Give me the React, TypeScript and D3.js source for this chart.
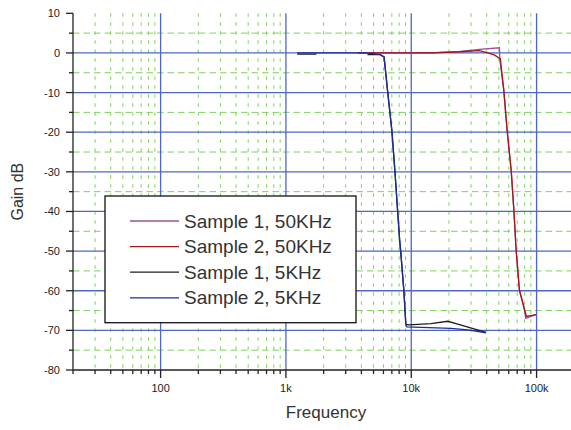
import React from 'react'
import * as d3 from 'd3'

const seriesNames = ['Sample 1, 50KHz', 'Sample 2, 50KHz', 'Sample 1, 5KHz', 'Sample 2, 5KHz']
const seriesColors = ['#9a4fa0', '#a3161c', '#1e1e1e', '#1c2c9c']

const s1_50kFreq = [3760, 14360, 24650, 34940, 50500, 51000, 54800, 58200, 62700, 65900, 68700, 73000, 79200, 82000, 99300]
const s1_50kGain = [0, 0, 0.4, 0.9, 1.3, -1.9, -9.5, -19.5, -29.6, -39.7, -49.8, -59.9, -64.1, -67, -66]

const s2_50kFreq = [3760, 14360, 24650, 34940, 40800, 46000, 51400, 54800, 58200, 62700, 65900, 68700, 73000, 79200, 83000, 99300]
const s2_50kGain = [0, 0, 0.3, 0.6, 0, -0.5, -1.5, -9.5, -19.5, -29.6, -39.7, -49.8, -59.9, -64.1, -66.5, -66]

const s1_5kFreq = [1230, 1750, 2500, 4475, 5640, 6070, 6470, 7000, 7400, 7780, 8070, 8260, 8730, 9060, 9620, 14360, 19540, 23480, 39540]
const s1_5kGain = [-0.3, -0.3, null, -0.45, -0.45, -1, -9.5, -19.5, -29.6, -39.7, -47, -50.5, -60, -68.5, -68.6, -68.3, -67.7, -68.4, -70.5]

const s2_5kFreq = [1230, 4475, 5640, 6070, 6470, 7000, 7400, 7780, 8070, 8260, 8730, 9060, 9230, 20750, 28250, 39540]
const s2_5kGain = [0, 0, -0.4, -1, -9.5, -19.5, -29.6, -39.7, -47, -50.5, -60, -68.7, -69.1, -69.5, -69.9, -70.6]

const majorFreqs = [100, 1000, 10000, 100000]
const freqLabels = ['100', '1k', '10k', '100k']
const gainTicks = [10, 0, -10, -20, -30, -40, -50, -60, -70, -80]

const W = 571
const H = 430

const App = () => {
  const x = d3.scaleLog().domain([20, 200000]).range([73, 574.3])
  const y = d3.scaleLinear().domain([-80, 10]).range([370, 13.3])
  const top = y(10)
  const bottom = y(-80)
  const left = x(20)

  // minor log ticks 30..90, 200..900 etc
  const minorFreqs: number[] = []
  ;[10, 100, 1000, 10000, 100000].forEach(dec => {
    for (let m = 2; m <= 9; m++) {
      const f = dec * m
      if (f > 20 && f < 200000) minorFreqs.push(f)
    }
  })
  const minorGains = d3.range(-75, 10, 10)

  const series = [
    [s1_50kFreq, s1_50kGain],
    [s2_50kFreq, s2_50kGain],
    [s1_5kFreq, s1_5kGain],
    [s2_5kFreq, s2_5kGain],
  ]
  const line = d3.line<[number, number | null]>()
    .defined(d => d[1] != null)
    .x(d => x(d[0]))
    .y(d => y(d[1] as number))

  const font = 'Arial, "Liberation Sans", sans-serif'

  return (
    <svg width={W} height={H} style={{ position: 'absolute', left: 0, top: 0, background: '#fff' }} fontFamily={font}>
      {/* green dashed minor grid */}
      <g stroke="#7fd15c" strokeWidth={1}>
        {minorFreqs.map(f => (
          <line key={'vx' + f} x1={x(f)} x2={x(f)} y1={top} y2={bottom} strokeDasharray="3.5,5.5" />
        ))}
        {minorGains.map(g => (
          <line key={'hy' + g} x1={left} x2={W} y1={y(g)} y2={y(g)} strokeDasharray="6.5,4" />
        ))}
      </g>
      {/* blue major grid */}
      <g stroke="#4d68bd" strokeWidth={1.3}>
        {majorFreqs.map(f => (
          <line key={'mx' + f} x1={x(f)} x2={x(f)} y1={top} y2={bottom} />
        ))}
        {gainTicks.filter(g => g < 10 && g > -80).map(g => (
          <line key={'my' + g} x1={left} x2={W} y1={y(g)} y2={y(g)} />
        ))}
      </g>
      {/* axes */}
      <g stroke="#222" strokeWidth={1.3}>
        <line x1={left} x2={left} y1={top} y2={bottom} />
        <line x1={left} x2={W} y1={bottom} y2={bottom} />
        {gainTicks.map(g => <line key={'ty' + g} x1={left - 7} x2={left} y1={y(g)} y2={y(g)} />)}
        {minorGains.map(g => <line key={'tmy' + g} x1={left - 4} x2={left} y1={y(g)} y2={y(g)} />)}
        {majorFreqs.map(f => <line key={'tx' + f} x1={x(f)} x2={x(f)} y1={bottom} y2={bottom + 8} />)}
        {[20, ...minorFreqs].map(f => <line key={'tmx' + f} x1={x(f)} x2={x(f)} y1={bottom} y2={bottom + 4} />)}
      </g>
      <g fontSize={11} fill="#222">
        {gainTicks.map(g => (
          <text key={'ly' + g} x={60} y={y(g) + 4} textAnchor="end">{String(g)}</text>
        ))}
        {majorFreqs.map((f, i) => (
          <text key={'lx' + f} x={x(f)} y={bottom + 22} textAnchor="middle">{freqLabels[i]}</text>
        ))}
      </g>
      <text x={326} y={418} textAnchor="middle" fontSize={17} fill="#333">Frequency</text>
      <text transform={`translate(23, ${(top + bottom) / 2}) rotate(-90)`} textAnchor="middle" fontSize={16} fill="#333">Gain dB</text>
      {/* curves */}
      <g fill="none" strokeWidth={1.3}>
        {series.map((s, i) => (
          <path key={'s' + i} d={line(s[0].map((f, j) => [f, s[1][j]] as [number, number | null])) || ''} stroke={seriesColors[i]} />
        ))}
      </g>
      {/* legend */}
      <g>
        <rect x={105} y={196} width={251} height={126.7} fill="#fff" stroke="#111" strokeWidth={1.3} />
        {seriesNames.map((n, i) => {
          const ly = 221 + i * 25.6
          return (
            <g key={'lg' + i}>
              <line x1={130} x2={179} y1={ly} y2={ly} stroke={seriesColors[i]} strokeWidth={1.3} />
              <text x={184} y={ly + 6.5} fontSize={19} fill="#333">{n}</text>
            </g>
          )
        })}
      </g>
    </svg>
  )
}

export default App
